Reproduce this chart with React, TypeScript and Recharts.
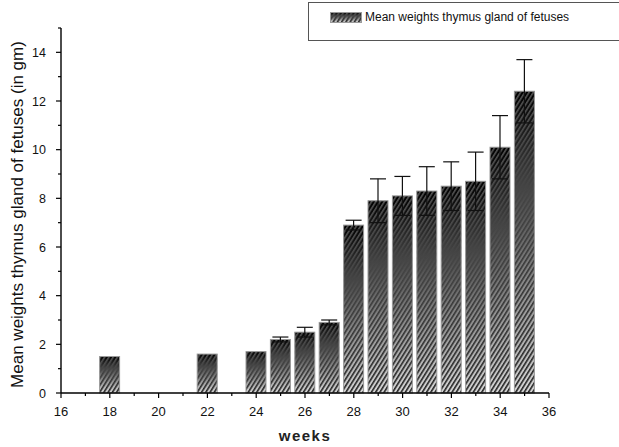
import { BarChart, Bar, XAxis, YAxis, ErrorBar } from 'recharts';

// weeks of gestation and mean thymus weight (gm) with SD
const weeks = [18, 22, 24, 25, 26, 27, 28, 29, 30, 31, 32, 33, 34, 35];
const meanWeights = [1.5, 1.6, 1.7, 2.2, 2.5, 2.9, 6.9, 7.9, 8.1, 8.3, 8.5, 8.7, 10.1, 12.4];
const sdWeights = [0, 0, 0, 0.1, 0.2, 0.1, 0.2, 0.9, 0.8, 1.0, 1.0, 1.2, 1.3, 1.3];

const xTicks = [16, 17, 18, 19, 20, 21, 22, 23, 24, 25, 26, 27, 28, 29, 30, 31, 32, 33, 34, 35, 36];
const yTicks = [0, 1, 2, 3, 4, 5, 6, 7, 8, 9, 10, 11, 12, 13, 14, 15];

const seriesName = 'Mean weights thymus gland of fetuses';
const yTitle = 'Mean weights thymus gland of fetuses (in gm)';
const xTitle = 'weeks';

const data = weeks.map((w, i) => ({ week: w, mean: meanWeights[i], sd: sdWeights[i] }));

const FONT = '"Liberation Sans", Arial, sans-serif';

const XTick = ({ x, y, payload }: any) => {
  const major = payload.value % 2 === 0;
  return (
    <g>
      <line x1={x} x2={x} y1={y} y2={y + (major ? 5 : 3)} stroke="#000" strokeWidth={1.2} />
      {major && (
        <text x={x} y={y + 23} textAnchor="middle" fontSize={13} fill="#111" fontFamily={FONT}>
          {payload.value}
        </text>
      )}
    </g>
  );
};

const YTick = ({ x, y, payload }: any) => {
  const major = payload.value % 2 === 0;
  return (
    <g>
      <line x1={x} x2={x - (major ? 5 : 3)} y1={y} y2={y} stroke="#000" strokeWidth={1.2} />
      {major && (
        <text x={x - 15} y={y + 4.5} textAnchor="end" fontSize={12.5} fill="#111" fontFamily={FONT}>
          {payload.value}
        </text>
      )}
    </g>
  );
};

// bar: background gradient black -> light grey, stripes gradient grey -> dark
const HatchBar = (p: any) => {
  const { x, y, width, height } = p;
  if (!height) return null;
  return (
    <g>
      <rect x={x} y={y} width={width} height={height} fill="url(#barGrad)" />
      <rect x={x} y={y} width={width} height={height} fill="url(#stripeGrad)" mask="url(#hatchMask)" />
      <rect x={x} y={y} width={width} height={height} fill="none" stroke="#9a9a9a" strokeWidth={1} />
    </g>
  );
};

const PatternDefs = ({ suffix = '' }: { suffix?: string }) => (
  <defs>
    <linearGradient id={'barGrad' + suffix} x1="0" y1="0" x2="0" y2="1">
      <stop offset="0%" stopColor="#000" />
      <stop offset="100%" stopColor="#d6d6d6" />
    </linearGradient>
    <linearGradient id={'stripeGrad' + suffix} x1="0" y1="0" x2="0" y2="1">
      <stop offset="0%" stopColor="#5a5a5a" />
      <stop offset="100%" stopColor="#1a1a1a" />
    </linearGradient>
    <pattern id={'hatch' + suffix} width="3.6" height="4" patternUnits="userSpaceOnUse" patternTransform="rotate(32)">
      <line x1="0.8" y1="0" x2="0.8" y2="4" stroke="#fff" strokeWidth={1.5} />
    </pattern>
    <mask id={'hatchMask' + suffix} maskContentUnits="userSpaceOnUse">
      <rect x={0} y={0} width={700} height={500} fill={`url(#hatch${suffix})`} />
    </mask>
  </defs>
);

export default function App() {
  return (
    <div style={{ position: 'absolute', left: 0, top: 0, width: 619, height: 447, background: '#fff' }}>
      <BarChart width={619} height={447} data={data} margin={{ top: 28, right: 70, bottom: 0, left: 0 }}>
        <PatternDefs />
        <XAxis
          type="number"
          dataKey="week"
          domain={[16, 36]}
          ticks={xTicks}
          interval={0}
          tickSize={0}
          tickMargin={0}
          tickLine={false}
          tick={<XTick />}
          height={54}
          axisLine={{ stroke: '#000', strokeWidth: 1.4 }}
          label={{
            content: ({ viewBox }: any) => (
              <text
                x={viewBox.x + viewBox.width / 2}
                y={viewBox.y + 48}
                textAnchor="middle"
                fontSize={15}
                fontWeight="bold"
                letterSpacing={1.5}
                fill="#222"
                fontFamily={FONT}
              >
                {xTitle}
              </text>
            ),
          }}
        />
        <YAxis
          type="number"
          domain={[0, 15]}
          ticks={yTicks}
          interval={0}
          tickSize={0}
          tickMargin={0}
          tickLine={false}
          tick={<YTick />}
          width={61}
          axisLine={{ stroke: '#000', strokeWidth: 1.4 }}
          label={{
            content: ({ viewBox }: any) => {
              const cx = 17;
              const cy = viewBox.y + viewBox.height / 2 + 4;
              return (
                <text
                  x={cx}
                  y={cy}
                  transform={`rotate(-90 ${cx} ${cy})`}
                  textAnchor="middle"
                  dominantBaseline="central"
                  fontSize={17}
                  fill="#111"
                  fontFamily={FONT}
                >
                  {yTitle}
                </text>
              );
            },
          }}
        />
        <Bar dataKey="mean" barSize={20} shape={<HatchBar />} isAnimationActive={false}>
          <ErrorBar dataKey="sd" width={8} stroke="#111" strokeWidth={1.2} direction="y" isAnimationActive={false} />
        </Bar>
      </BarChart>
      <div
        style={{
          position: 'absolute',
          left: 308,
          top: 2,
          width: 330,
          height: 39,
          border: '1px solid #555',
          boxSizing: 'border-box',
          fontFamily: FONT,
          fontSize: 12,
          color: '#111',
        }}
      >
        <svg width={32} height={11} style={{ position: 'absolute', left: 21, top: 9 }}>
          <PatternDefs suffix="L" />
          <rect x={0.5} y={0.5} width={31} height={10} fill="url(#barGradL)" />
          <rect x={0.5} y={0.5} width={31} height={10} fill="url(#stripeGradL)" mask="url(#hatchMaskL)" />
          <rect x={0.5} y={0.5} width={31} height={10} fill="none" stroke="#9a9a9a" />
        </svg>
        <span style={{ position: 'absolute', left: 56, top: 7, whiteSpace: 'nowrap' }}>{seriesName}</span>
      </div>
    </div>
  );
}
